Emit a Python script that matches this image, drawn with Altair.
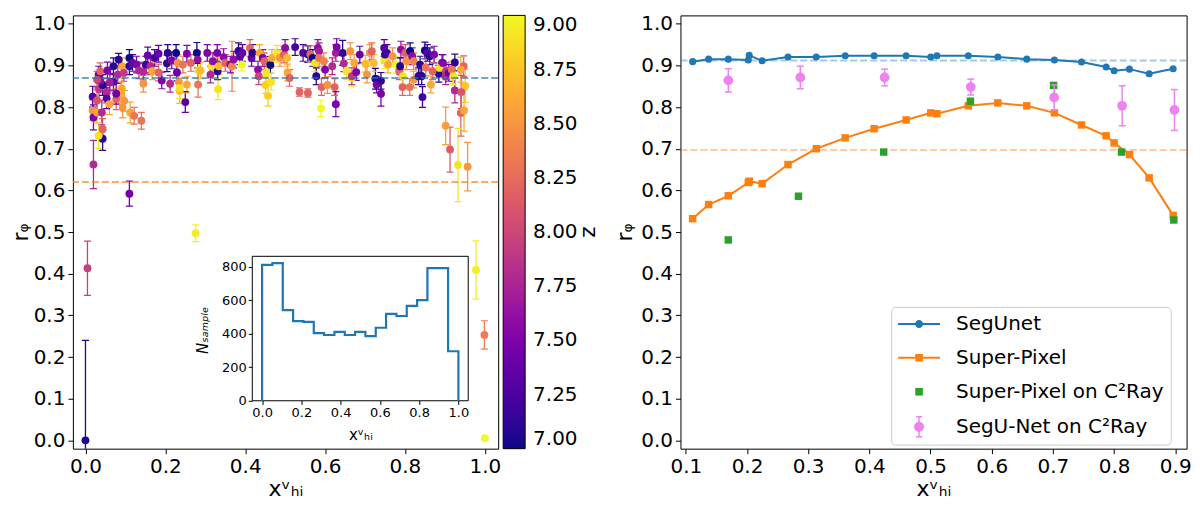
import altair as alt
import pandas as pd

FONT = "DejaVu Sans"

# ---------------- left panel: r_phi vs x_HI coloured by redshift z ----------------
sx = [
    0.000, 0.005, 0.110, 0.276, 0.978, 0.999, 1.000, 0.902, 0.913, 0.933,
    0.957, 0.940, 0.948, 0.951, 0.925, 0.941, 0.947, 0.918, 0.925, 0.940,
    0.885, 0.893, 0.020, 0.043, 0.033, 0.043, 0.018, 0.020, 0.018, 0.029,
    0.041, 0.029, 0.034, 0.053, 0.053, 0.060, 0.077, 0.093, 0.097, 0.112,
    0.122, 0.140, 0.089, 0.091, 0.145, 0.077, 0.070, 0.061, 0.043, 0.037,
    0.033, 0.029, 0.037, 0.055, 0.070, 0.081, 0.092, 0.096, 0.083, 0.110,
    0.110, 0.118, 0.128, 0.134, 0.145, 0.151, 0.156, 0.163, 0.167, 0.173,
    0.183, 0.183, 0.191, 0.204, 0.206, 0.212, 0.216, 0.227, 0.229, 0.231,
    0.234, 0.236, 0.236, 0.250, 0.254, 0.254, 0.244, 0.264, 0.279, 0.281,
    0.283, 0.282, 0.288, 0.305, 0.313, 0.316, 0.319, 0.330, 0.331, 0.332,
    0.334, 0.346, 0.350, 0.363, 0.367, 0.371, 0.383, 0.387, 0.391, 0.393,
    0.412, 0.416, 0.418, 0.432, 0.434, 0.436, 0.444, 0.448, 0.453, 0.451,
    0.457, 0.463, 0.465, 0.467, 0.480, 0.487, 0.497, 0.500, 0.505, 0.506,
    0.511, 0.525, 0.536, 0.557, 0.545, 0.557, 0.563, 0.569, 0.575, 0.578,
    0.582, 0.585, 0.585, 0.590, 0.591, 0.597, 0.600, 0.606, 0.618, 0.624,
    0.627, 0.627, 0.629, 0.644, 0.647, 0.654, 0.663, 0.667, 0.667, 0.673,
    0.678, 0.687, 0.701, 0.705, 0.712, 0.717, 0.722, 0.726, 0.729, 0.740,
    0.740, 0.748, 0.748, 0.750, 0.755, 0.758, 0.769, 0.777, 0.786, 0.788,
    0.790, 0.794, 0.795, 0.801, 0.804, 0.812, 0.813, 0.818, 0.822, 0.822,
    0.834, 0.838, 0.842, 0.844, 0.850, 0.852, 0.856, 0.862, 0.865, 0.869,
    0.873, 0.887, 0.895, 0.903, 0.902, 0.910, 0.917, 0.921,
]
sy = [
    0.000, 0.413, 0.592, 0.497, 0.409, 0.253, 0.005, 0.755, 0.698, 0.661,
    0.657, 0.786, 0.792, 0.851, 0.840, 0.836, 0.898, 0.881, 0.907, 0.890,
    0.880, 0.906, 0.662, 0.724, 0.731, 0.747, 0.792, 0.775, 0.825, 0.787,
    0.787, 0.816, 0.843, 0.835, 0.821, 0.807, 0.819, 0.799, 0.815, 0.787,
    0.779, 0.767, 0.835, 0.845, 0.856, 0.832, 0.861, 0.859, 0.853, 0.863,
    0.878, 0.866, 0.886, 0.888, 0.898, 0.878, 0.898, 0.882, 0.914, 0.918,
    0.898, 0.906, 0.902, 0.888, 0.885, 0.902, 0.924, 0.898, 0.886, 0.918,
    0.883, 0.928, 0.864, 0.905, 0.930, 0.856, 0.912, 0.930, 0.883, 0.906,
    0.860, 0.839, 0.846, 0.812, 0.854, 0.928, 0.902, 0.906, 0.930, 0.914,
    0.888, 0.854, 0.888, 0.930, 0.878, 0.898, 0.910, 0.930, 0.886, 0.843,
    0.898, 0.920, 0.906, 0.902, 0.898, 0.914, 0.934, 0.922, 0.902, 0.930,
    0.942, 0.918, 0.930, 0.890, 0.874, 0.930, 0.918, 0.910, 0.883, 0.853,
    0.827, 0.901, 0.861, 0.918, 0.928, 0.918, 0.926, 0.942, 0.918, 0.883,
    0.870, 0.944, 0.836, 0.834, 0.930, 0.927, 0.927, 0.918, 0.906, 0.874,
    0.942, 0.934, 0.918, 0.797, 0.848, 0.910, 0.890, 0.853, 0.898, 0.848,
    0.807, 0.930, 0.944, 0.930, 0.905, 0.886, 0.934, 0.870, 0.874, 0.906,
    0.884, 0.926, 0.904, 0.878, 0.930, 0.934, 0.906, 0.868, 0.854, 0.832,
    0.863, 0.942, 0.912, 0.926, 0.930, 0.902, 0.922, 0.902, 0.886, 0.898,
    0.938, 0.848, 0.874, 0.930, 0.910, 0.848, 0.934, 0.922, 0.910, 0.866,
    0.874, 0.902, 0.874, 0.824, 0.936, 0.895, 0.930, 0.922, 0.854, 0.886,
    0.926, 0.894, 0.906, 0.886, 0.874, 0.882, 0.890, 0.874,
]
serr = [
    0.240, 0.065, 0.030, 0.020, 0.070, 0.034, 0.000, 0.045, 0.054, 0.088,
    0.058, 0.056, 0.050, 0.040, 0.030, 0.040, 0.025, 0.025, 0.020, 0.030,
    0.020, 0.020, 0.058, 0.028, 0.030, 0.025, 0.025, 0.030, 0.025, 0.025,
    0.030, 0.025, 0.030, 0.025, 0.025, 0.025, 0.025, 0.025, 0.025, 0.025,
    0.020, 0.020, 0.025, 0.025, 0.020, 0.025, 0.020, 0.020, 0.025, 0.020,
    0.020, 0.020, 0.020, 0.020, 0.020, 0.020, 0.020, 0.020, 0.015, 0.020,
    0.020, 0.020, 0.020, 0.020, 0.020, 0.020, 0.020, 0.020, 0.020, 0.020,
    0.020, 0.020, 0.020, 0.020, 0.020, 0.020, 0.020, 0.020, 0.020, 0.020,
    0.020, 0.030, 0.025, 0.025, 0.020, 0.020, 0.020, 0.020, 0.025, 0.020,
    0.020, 0.030, 0.020, 0.020, 0.020, 0.020, 0.020, 0.020, 0.020, 0.025,
    0.020, 0.020, 0.020, 0.020, 0.060, 0.020, 0.020, 0.020, 0.015, 0.020,
    0.020, 0.020, 0.020, 0.020, 0.020, 0.020, 0.020, 0.020, 0.025, 0.020,
    0.025, 0.020, 0.020, 0.020, 0.020, 0.020, 0.020, 0.020, 0.020, 0.020,
    0.020, 0.020, 0.010, 0.010, 0.020, 0.020, 0.020, 0.020, 0.020, 0.020,
    0.020, 0.020, 0.020, 0.020, 0.020, 0.020, 0.020, 0.020, 0.020, 0.020,
    0.030, 0.020, 0.020, 0.030, 0.020, 0.020, 0.020, 0.020, 0.020, 0.020,
    0.020, 0.020, 0.020, 0.020, 0.020, 0.020, 0.020, 0.025, 0.020, 0.030,
    0.020, 0.020, 0.020, 0.020, 0.020, 0.020, 0.020, 0.020, 0.020, 0.020,
    0.020, 0.020, 0.020, 0.020, 0.020, 0.020, 0.020, 0.020, 0.020, 0.020,
    0.020, 0.020, 0.020, 0.025, 0.020, 0.020, 0.020, 0.020, 0.020, 0.020,
    0.020, 0.020, 0.020, 0.020, 0.020, 0.020, 0.020, 0.020,
]
sz = [
    7.05, 7.95, 7.45, 8.95, 8.95, 8.35, 9.00, 8.55, 8.15, 8.90,
    8.50, 8.20, 8.60, 8.75, 7.80, 8.10, 8.20, 8.90, 7.10, 8.60,
    7.10, 7.40, 7.80, 7.10, 8.90, 8.20, 8.50, 7.50, 7.30, 8.60,
    7.80, 8.10, 7.90, 7.80, 7.30, 8.60, 8.20, 8.50, 8.50, 8.60,
    8.30, 8.30, 8.60, 8.60, 8.50, 7.40, 7.30, 7.70, 7.10, 7.60,
    7.40, 8.00, 8.20, 7.50, 7.10, 7.80, 8.60, 7.90, 7.10, 7.00,
    7.10, 7.40, 7.50, 7.80, 7.80, 7.20, 7.40, 7.80, 8.60, 7.20,
    8.20, 7.40, 7.50, 7.10, 7.10, 7.80, 7.50, 7.00, 7.40, 8.50,
    8.50, 8.70, 8.90, 7.30, 8.60, 7.50, 8.30, 8.20, 7.00, 7.60,
    8.90, 8.30, 8.70, 7.50, 7.80, 8.90, 7.60, 7.50, 7.10, 8.90,
    8.70, 7.60, 8.20, 7.50, 8.40, 7.60, 7.10, 7.30, 9.00, 7.40,
    8.20, 7.40, 7.10, 7.60, 8.00, 8.60, 7.50, 8.20, 8.90, 8.80,
    8.80, 7.00, 8.90, 8.60, 8.90, 8.50, 8.20, 7.60, 8.70, 8.60,
    8.20, 7.20, 8.20, 8.20, 7.30, 7.10, 8.20, 7.00, 8.90, 7.10,
    7.60, 7.70, 8.30, 9.00, 8.20, 8.40, 7.50, 8.50, 7.80, 8.20,
    7.50, 7.70, 7.50, 7.10, 7.80, 8.90, 8.50, 8.90, 7.90, 8.60,
    7.50, 7.40, 8.70, 8.50, 8.50, 8.20, 8.70, 7.10, 7.50, 7.50,
    7.10, 7.30, 8.90, 7.10, 7.20, 8.60, 8.50, 9.00, 8.20, 7.10,
    7.60, 8.20, 8.90, 8.20, 8.50, 8.30, 7.00, 7.60, 8.40, 8.50,
    7.10, 7.10, 7.10, 7.20, 7.00, 8.30, 7.30, 7.10, 8.60, 8.20,
    7.50, 8.90, 7.50, 7.90, 7.80, 7.40, 8.30, 8.90,
]
assert len(sx) == len(sy) == len(serr) == len(sz)

left_hline_y = [0.87, 0.62]
left_hline_color = ["#1f77b4", "#ff7f0e"]

z_ticks = [7.00, 7.25, 7.50, 7.75, 8.00, 8.25, 8.50, 8.75, 9.00]
y_ticks = [0.0, 0.1, 0.2, 0.3, 0.4, 0.5, 0.6, 0.7, 0.8, 0.9, 1.0]
left_x_ticks = [0.0, 0.2, 0.4, 0.6, 0.8, 1.0]

# inset histogram of samples (19 bins on [0, 1])
hist_counts = [810, 820, 540, 475, 470, 403, 392, 410, 392, 410,
               385, 435, 518, 505, 565, 600, 790, 790, 295]
hist_range = [0.0, 1.0]
inset_x_domain = [-0.05, 1.05]
inset_y_domain = [0, 861]
inset_x_ticks = [0.0, 0.2, 0.4, 0.6, 0.8, 1.0]
inset_y_ticks = [0, 200, 400, 600, 800]

# ---------------- right panel ----------------
rx = [0.1111, 0.1372, 0.1694, 0.2021, 0.2036, 0.2247, 0.2670, 0.3132, 0.3605, 0.4078,
      0.4601, 0.5003, 0.5104, 0.5617, 0.6100, 0.6573, 0.7025, 0.7468, 0.7870, 0.8001,
      0.8252, 0.8574, 0.8966]
segunet_y = [0.909, 0.915, 0.915, 0.913, 0.924, 0.911, 0.920, 0.920, 0.923, 0.923,
             0.923, 0.920, 0.923, 0.923, 0.920, 0.915, 0.913, 0.908, 0.896, 0.887,
             0.891, 0.880, 0.892]
superpixel_y = [0.532, 0.566, 0.587, 0.619, 0.622, 0.616, 0.662, 0.700, 0.726, 0.748,
                0.769, 0.786, 0.784, 0.803, 0.810, 0.803, 0.786, 0.757, 0.731, 0.714,
                0.686, 0.630, 0.540]
c2_sp_x = [0.1694, 0.2841, 0.4234, 0.5652, 0.7011, 0.8122, 0.8977]
c2_sp_y = [0.481, 0.586, 0.692, 0.814, 0.852, 0.692, 0.529]
c2_seg_x = [0.1694, 0.2871, 0.4249, 0.5657, 0.7021, 0.8132, 0.8987]
c2_seg_y = [0.864, 0.871, 0.871, 0.848, 0.823, 0.803, 0.793]
c2_seg_err = [0.028, 0.027, 0.020, 0.019, 0.030, 0.048, 0.049]
right_hline_y = [0.912, 0.697]
right_hline_color = ["#1f77b4", "#ff7f0e"]
right_x_ticks = [0.1, 0.2, 0.3, 0.4, 0.5, 0.6, 0.7, 0.8, 0.9]

series_names = ["SegUnet", "Super-Pixel", "Super-Pixel on C\u00b2Ray", "SegU-Net on C\u00b2Ray"]
series_colors = ["#1f77b4", "#ff7f0e", "#2ca02c", "#ee82ee"]
# legend handles drawn as filled paths (unit = 10 px): line + marker, square, errorbar + dot
series_symbols = [
    "M-1,-0.1H3.2V0.1H-1Z M1.5,0A0.4,0.4,0,1,1,0.7,0A0.4,0.4,0,1,1,1.5,0Z",
    "M-1,-0.1H3.2V0.1H-1Z M0.72,-0.38H1.48V0.38H0.72Z",
    "M0.72,-0.38H1.48V0.38H0.72Z",
    "M1.03,-1H1.17V1H1.03Z M0.8,-1.07H1.4V-0.93H0.8Z M0.8,0.93H1.4V1.07H0.8Z "
    "M1.6,0A0.5,0.5,0,1,1,0.6,0A0.5,0.5,0,1,1,1.6,0Z",
]

# ================= build =================
W_L, W_R, H = 426, 507, 434

ld = pd.DataFrame({
    "x": sx, "y": sy, "z": sz,
    "lo": [a - e for a, e in zip(sy, serr)],
    "hi": [a + e for a, e in zip(sy, serr)],
})

xL = alt.Scale(domain=[-0.019, 1.021], nice=False, zero=False)
yS = alt.Scale(domain=[-0.02, 1.02], nice=False, zero=False)
zS = alt.Scale(scheme="plasma", domain=[7, 9])

axis_lx = alt.Axis(values=left_x_ticks, format=".1f", title="x\u1d5b\u2095\u1d62",
                   titleX=W_L / 2, titleY=40, titleAlign="center", titleBaseline="middle")
axis_ly = alt.Axis(values=y_ticks, format=".1f", title="r\u1d69",
                   titleX=-52, titleY=217, titleAngle=270, titleAlign="center",
                   titleBaseline="middle")
z_legend = alt.Legend(
    type="gradient", direction="vertical", orient="none", legendX=431, legendY=0,
    gradientLength=H, gradientThickness=22, gradientStrokeColor="black",
    gradientStrokeWidth=1, values=z_ticks, format=".2f", labelFontSize=20,
    labelOffset=8, labelBaseline="middle", labelOverlap=False, labelColor="black",
    title="z", titleOrient="right", titleFontSize=22, titleFontWeight="normal",
    titlePadding=0, titleAnchor="middle", titleColor="black", padding=0,
)

X_L = alt.X("x:Q", scale=xL, axis=axis_lx)
C_Z = alt.Color("z:Q", scale=zS, legend=z_legend)

# error bars as thin bars (filled, so that every layer uses the same colour channel)
err_bars = alt.Chart(ld).mark_bar(size=1.3, clip=True, opacity=1).encode(
    x=X_L, y=alt.Y("lo:Q", scale=yS, axis=axis_ly), y2="hi:Q", color=C_Z)
cap_lo = alt.Chart(ld).mark_tick(orient="horizontal", size=7, thickness=1.2,
                                 opacity=1, clip=True).encode(
    x=X_L, y=alt.Y("lo:Q", scale=yS, axis=axis_ly), color=C_Z)
cap_hi = alt.Chart(ld).mark_tick(orient="horizontal", size=7, thickness=1.2,
                                 opacity=1, clip=True).encode(
    x=X_L, y=alt.Y("hi:Q", scale=yS, axis=axis_ly), color=C_Z)
pts = alt.Chart(ld).mark_circle(size=62, opacity=1).encode(
    x=X_L, y=alt.Y("y:Q", scale=yS, axis=axis_ly), color=C_Z)

lh = pd.DataFrame({"y": left_hline_y, "c": left_hline_color})
left_rules = alt.Chart(lh).mark_rule(strokeDash=[7, 3], strokeWidth=2, opacity=0.65).encode(
    y=alt.Y("y:Q", scale=yS, axis=axis_ly), stroke=alt.Stroke("c:N", scale=None))

left_main = alt.layer(err_bars, cap_lo, cap_hi, pts, left_rules)

# inset
nb = len(hist_counts)
edges = [hist_range[0] + (hist_range[1] - hist_range[0]) * i / nb for i in range(nb + 1)]
hx = [hist_range[0]] + edges[:-1] + [hist_range[1]]
hy = [0] + hist_counts + [0]
hd = pd.DataFrame({"x": hx, "y": hy, "i": list(range(len(hx)))})

xI = alt.Scale(domain=inset_x_domain, range=[179.7, 396], nice=False, zero=False)
yI = alt.Scale(domain=inset_y_domain, range=[386, 241.3], nice=False, zero=False)
axis_ix = alt.Axis(orient="bottom", offset=-48.3, values=inset_x_ticks, format=".1f",
                   labelFontSize=13, tickSize=4, labelPadding=2, title="x\u1d5b\u2095\u1d62",
                   titleFontSize=15, titleX=288, titleY=34, titleAlign="center",
                   titleBaseline="middle")
axis_iy = alt.Axis(orient="left", offset=-179.7, values=inset_y_ticks, format="d",
                   labelFontSize=13, tickSize=4, labelPadding=2,
                   title="N\u209b\u2090\u2098\u209a\u2097\u2091", titleFontSize=15,
                   titleFontStyle="italic", titleX=-50, titleY=315, titleAngle=270,
                   titleAlign="center", titleBaseline="middle")

frame_df = pd.DataFrame({"x0": [inset_x_domain[0]], "x1": [inset_x_domain[1]],
                         "y0": [inset_y_domain[0]], "y1": [inset_y_domain[1]]})
inset_frame = alt.Chart(frame_df).mark_rect(fill="white", stroke="black", strokeWidth=1).encode(
    x=alt.X("x0:Q", scale=xI, axis=axis_ix), x2="x1:Q",
    y=alt.Y("y0:Q", scale=yI, axis=axis_iy), y2="y1:Q")
inset_hist = alt.Chart(hd).mark_line(interpolate="step-after", color="#1f77b4",
                                     strokeWidth=2.2).encode(
    x=alt.X("x:Q", scale=xI, axis=axis_ix), y=alt.Y("y:Q", scale=yI, axis=axis_iy),
    order="i:Q")
inset = alt.layer(inset_frame, inset_hist)

left = alt.layer(left_main, inset).resolve_scale(x="independent", y="independent").properties(
    width=W_L, height=H)

# right panel
xR = alt.Scale(domain=[0.0912, 0.9186], nice=False, zero=False)
axis_rx = alt.Axis(values=right_x_ticks, format=".1f", title="x\u1d5b\u2095\u1d62",
                   titleX=W_R / 2, titleY=40, titleAlign="center", titleBaseline="middle")
axis_ry = alt.Axis(values=y_ticks, format=".1f", title="r\u1d69", titleX=-56, titleY=217,
                   titleAngle=270, titleAlign="center", titleBaseline="middle")
X_R = alt.X("x:Q", scale=xR, axis=axis_rx)
Y_R = alt.Y("y:Q", scale=yS, axis=axis_ry)

seg_df = pd.DataFrame({"x": rx, "y": segunet_y, "i": list(range(len(rx)))})
sp_df = pd.DataFrame({"x": rx, "y": superpixel_y, "i": list(range(len(rx)))})
gsp_df = pd.DataFrame({"x": c2_sp_x, "y": c2_sp_y})
vseg_df = pd.DataFrame({"x": c2_seg_x, "y": c2_seg_y,
                        "lo": [a - e for a, e in zip(c2_seg_y, c2_seg_err)],
                        "hi": [a + e for a, e in zip(c2_seg_y, c2_seg_err)]})
rh = pd.DataFrame({"y": right_hline_y, "c": right_hline_color})

r_rules = alt.Chart(rh).mark_rule(strokeDash=[7, 3], strokeWidth=2, opacity=0.4).encode(
    y=Y_R, stroke=alt.Stroke("c:N", scale=None))
seg_line = alt.Chart(seg_df).mark_line(color=series_colors[0], strokeWidth=2).encode(
    x=X_R, y=Y_R, order="i:Q")
seg_pts = alt.Chart(seg_df).mark_circle(color=series_colors[0], size=50, opacity=1).encode(
    x=X_R, y=Y_R)
sp_line = alt.Chart(sp_df).mark_line(color=series_colors[1], strokeWidth=2).encode(
    x=X_R, y=Y_R, order="i:Q")
sp_pts = alt.Chart(sp_df).mark_square(color=series_colors[1], size=56, opacity=1).encode(
    x=X_R, y=Y_R)
g_pts = alt.Chart(gsp_df).mark_square(color=series_colors[2], size=56, opacity=1).encode(
    x=X_R, y=Y_R)
v_err = alt.Chart(vseg_df).mark_rule(color=series_colors[3], strokeWidth=1.5).encode(
    x=X_R, y=alt.Y("lo:Q", scale=yS, axis=axis_ry), y2="hi:Q")
v_cap_lo = alt.Chart(vseg_df).mark_tick(orient="horizontal", size=7, thickness=1.5,
                                        color=series_colors[3], opacity=1).encode(
    x=X_R, y=alt.Y("lo:Q", scale=yS, axis=axis_ry))
v_cap_hi = alt.Chart(vseg_df).mark_tick(orient="horizontal", size=7, thickness=1.5,
                                        color=series_colors[3], opacity=1).encode(
    x=X_R, y=alt.Y("hi:Q", scale=yS, axis=axis_ry))
v_pts = alt.Chart(vseg_df).mark_circle(color=series_colors[3], size=95, opacity=1).encode(
    x=X_R, y=Y_R)

series_legend = alt.Legend(
    title=None, orient="none", legendX=211, legendY=292, symbolSize=400,
    symbolStrokeWidth=0, symbolOpacity=1, labelFontSize=20, labelOffset=38,
    rowPadding=14, padding=7, strokeColor="#cccccc", cornerRadius=4, fillColor="white",
    labelColor="black", labelLimit=400,
)
leg_df = pd.DataFrame({
    "series": series_names,
    "x": [rx[0], rx[0], c2_sp_x[0], c2_seg_x[0]],
    "y": [segunet_y[0], superpixel_y[0], c2_sp_y[0], c2_seg_y[0]],
})
# legend-only layer: its rows are filtered away, the legend comes from the explicit scale domains
leg_layer = alt.Chart(leg_df).transform_filter("false").mark_point(
    filled=True, opacity=1).encode(
    x=X_R, y=Y_R,
    color=alt.Color("series:N", scale=alt.Scale(domain=series_names, range=series_colors),
                    legend=series_legend),
    shape=alt.Shape("series:N", scale=alt.Scale(domain=series_names, range=series_symbols),
                    legend=series_legend),
)

right = alt.layer(r_rules, seg_line, seg_pts, sp_line, sp_pts, g_pts, v_err, v_cap_lo,
                  v_cap_hi, v_pts, leg_layer).properties(width=W_R, height=H)

chart = alt.hconcat(left, right, spacing=182.6, bounds="flush").resolve_scale(
    color="independent", shape="independent"
).resolve_legend(color="independent", shape="independent").properties(
    padding={"left": 1, "top": 4, "right": 0, "bottom": 0}
).configure(font=FONT).configure_view(stroke="black", strokeWidth=1).configure_axis(
    grid=False, domain=False, ticks=True, tickColor="black", tickSize=5, tickWidth=1,
    labelFontSize=20, titleFontSize=22, titleFontWeight="normal", labelColor="black",
    titleColor="black", labelPadding=3, labelFlush=False, labelOverlap=False,
    labelFont=FONT, titleFont=FONT,
).configure_legend(labelFont=FONT, titleFont=FONT)

chart.save("out.html", embed_options={"renderer": "svg", "actions": False})
